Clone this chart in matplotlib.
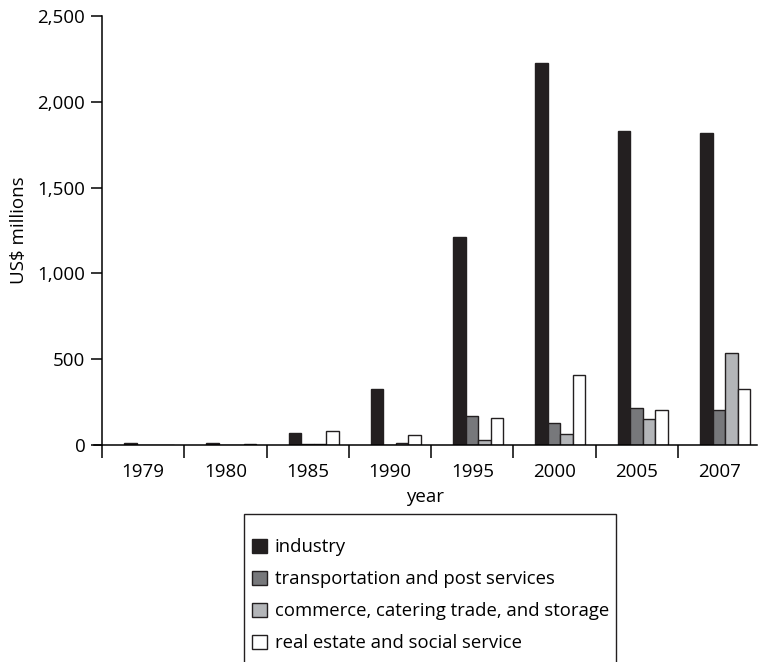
import numpy as np
import matplotlib
matplotlib.use("Agg")
import matplotlib.pyplot as plt
from matplotlib.patches import Rectangle

plt.rcParams['font.family'] = ['Open Sans', 'DejaVu Sans']
plt.rcParams['font.size'] = 13.5

# données
years = ['1979', '1980', '1985', '1990', '1995', '2000', '2005', '2007']
industry = [12, 12, 72, 326, 1212, 2226, 1828, 1816]
transport = [0, 0, 8, 0, 171, 128, 216, 204]
commerce = [0, 0, 8, 10, 27, 62, 150, 536]
real_estate = [0, 8, 82, 60, 159, 406, 204, 326]

series = [industry, transport, commerce, real_estate]
labels = ['industry', 'transportation and post services',
          'commerce, catering trade, and storage', 'real estate and social service']
colors = ['#231f20', '#77787b', '#b3b5b8', '#ffffff']

fig = plt.figure(figsize=(7.59, 6.62), dpi=100)
ax = fig.add_axes([0.1236, 0.3278, 0.8738, 0.648])

x = np.arange(len(years))
w = 0.152
start = 0.267
for i, (vals, col, lab) in enumerate(zip(series, colors, labels)):
    ax.bar(x + start + w * (i + 0.5), vals, width=w, color=col,
           edgecolor='#231f20', linewidth=1.0, label=lab)

ax.set_xlim(-0.1, 7.96)
ax.set_ylim(0, 2500)
ax.spines['top'].set_visible(False)
ax.spines['right'].set_visible(False)
ax.spines['left'].set_position(('data', 0))
ax.spines['left'].set_linewidth(1.1)
ax.spines['bottom'].set_linewidth(1.1)

ax.set_xticks(np.arange(0, 8))
ax.set_xticklabels([])
ax.set_xticks(x + 0.5, minor=True)
ax.set_xticklabels(years, minor=True)
ax.tick_params(axis='x', which='major', length=9, width=1.1, direction='out')
ax.tick_params(axis='x', which='minor', length=0, pad=13)
ax.set_yticks([0, 500, 1000, 1500, 2000, 2500])
ax.set_yticklabels(['0', '500', '1,000', '1,500', '2,000', '2,500'])
ax.tick_params(axis='y', length=8, width=1.1, pad=4)

ax.set_xlabel('year', labelpad=5)
ax.set_ylabel('US$ millions', labelpad=7)

# légende sans cadre + cadre dessiné à la main (coupé en bas)
fig.patches.append(Rectangle((244 / 759, -0.05), (616 - 244) / 759, 0.05 + 1 - 514 / 662,
                             transform=fig.transFigure, fill=False,
                             edgecolor='#231f20', linewidth=1.0))
ax.legend(loc='upper left', bbox_to_anchor=(243 / 759, 1 - 529 / 662),
          bbox_transform=fig.transFigure, frameon=False, borderpad=0,
          handlelength=0.78, handleheight=0.78, handletextpad=0.45,
          labelspacing=0.76, fontsize=13.3)

fig.savefig('out.png', dpi=100)
